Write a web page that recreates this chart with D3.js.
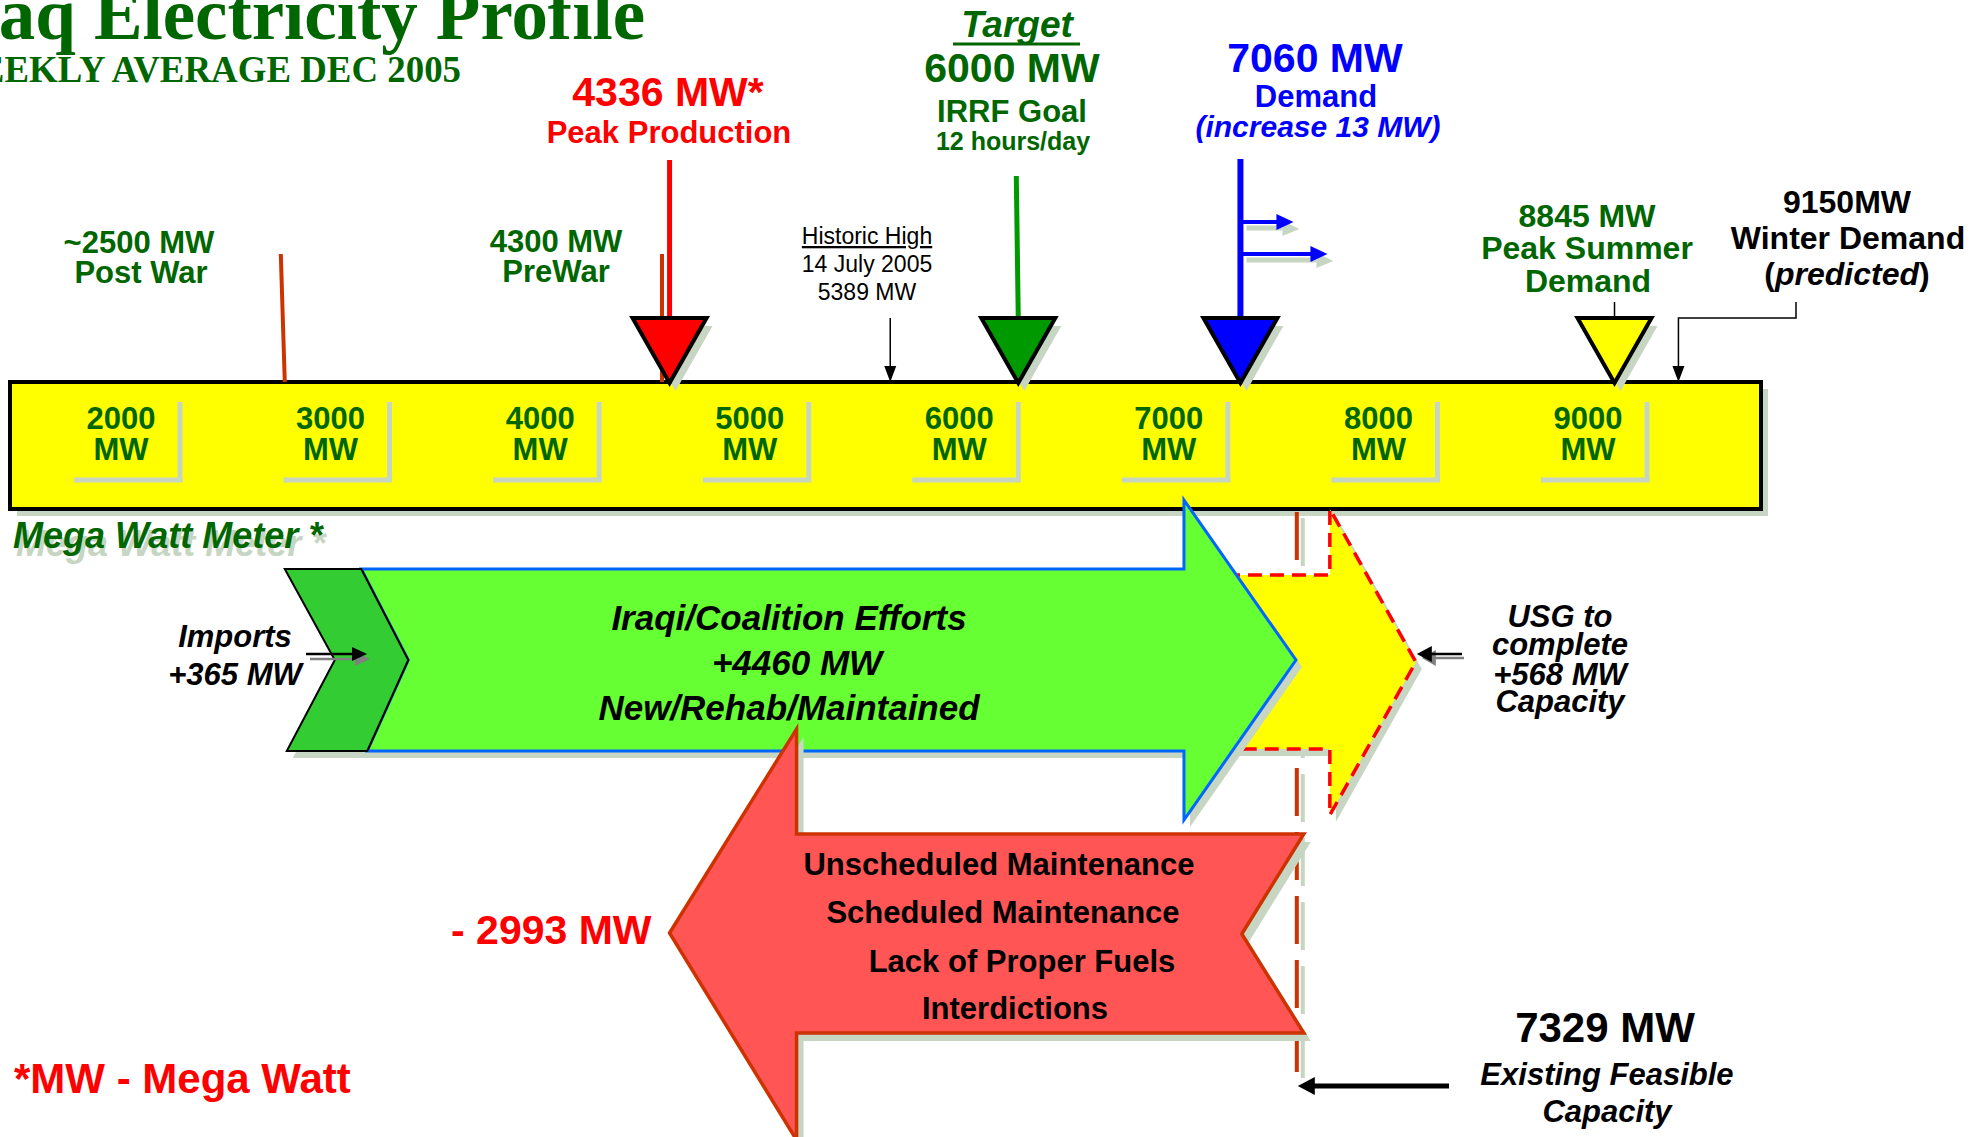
<!DOCTYPE html>
<html><head><meta charset="utf-8">
<script src="https://cdn.jsdelivr.net/npm/d3@7"></script>
<style>html,body{margin:0;padding:0;background:#fff;overflow:hidden}</style>
</head><body>
<svg id="c" width="1971" height="1137"></svg>
<script>
// ---------------- data ----------------
const titleText = "Iraq Electricity Profile";
const subtitleText = "WEEKLY AVERAGE DEC 2005";
const tickValues = [2000, 3000, 4000, 5000, 6000, 7000, 8000, 9000];
const tickUnit = "MW";
const markerKeys   = ["postWar", "preWar", "peak", "historic", "target", "demand", "summer", "winter"];
const markerValues = [2500, 4300, 4336, 5389, 6000, 7060, 8845, 9150];
const flowKeys   = ["imports", "efforts", "usg", "losses"];
const flowValues = [365, 4460, 568, -2993];
const existingCapacity = 7329;

const mv = k => markerValues[markerKeys.indexOf(k)];
const fv = k => flowValues[flowKeys.indexOf(k)];

// ---------------- setup ----------------
const svg = d3.select("#c");
const SH = "#c6d6c2", GREEN = "#006600", SANS = "'Liberation Sans', Arial, sans-serif";
const x = d3.scaleLinear().domain([2000, 9000]).range([180, 1647]);
const line = d3.line();

function text(str, cx, y, size, fill, o = {}) {
  return svg.append("text").attr("x", cx).attr("y", y)
    .attr("text-anchor", o.anchor || "middle")
    .attr("font-family", o.family || SANS)
    .attr("font-weight", o.weight || "bold")
    .attr("font-style", o.italic ? "italic" : "normal")
    .attr("font-size", size).attr("fill", fill).text(str);
}
function poly(pts, fill, stroke, sw, extra = {}) {
  const p = svg.append("path").attr("d", line(pts) + "Z").attr("fill", fill)
    .attr("stroke", stroke || "none").attr("stroke-width", sw || 0).attr("stroke-linejoin", "miter");
  Object.entries(extra).forEach(([k, v]) => p.attr(k, v));
  return p;
}
function seg(x1, y1, x2, y2, stroke, sw, extra = {}) {
  const l = svg.append("line").attr("x1", x1).attr("y1", y1).attr("x2", x2).attr("y2", y2)
    .attr("stroke", stroke).attr("stroke-width", sw);
  Object.entries(extra).forEach(([k, v]) => l.attr(k, v));
  return l;
}
const shift = (pts, dx, dy) => pts.map(p => [p[0] + dx, p[1] + dy]);

// ---------------- title ----------------
svg.append("text").attr("x", -62).attr("y", 39)
  .attr("font-family", "'Liberation Serif', 'Times New Roman', serif").attr("font-weight", "bold")
  .attr("font-size", 74).attr("fill", GREEN)
  .attr("textLength", 707).attr("lengthAdjust", "spacingAndGlyphs").text(titleText);
svg.append("text").attr("x", -57).attr("y", 82)
  .attr("font-family", "'Liberation Serif', 'Times New Roman', serif").attr("font-weight", "bold")
  .attr("font-size", 37).attr("fill", GREEN)
  .attr("textLength", 518).attr("lengthAdjust", "spacingAndGlyphs").text(subtitleText);

// ---------------- meter bar ----------------
svg.append("rect").attr("x", 17).attr("y", 389).attr("width", 1751).attr("height", 127).attr("fill", SH);
svg.append("rect").attr("x", 10).attr("y", 382).attr("width", 1751).attr("height", 127)
  .attr("fill", "#ffff00").attr("stroke", "#000").attr("stroke-width", 4);

tickValues.forEach(v => {
  const tx = x(v);
  seg(tx, 402, tx, 482, SH, 5);
  seg(tx - 106, 480, tx + 2.5, 480, SH, 5);
  text(String(v), tx - 59, 429, 31, GREEN);
  text(tickUnit, tx - 59, 460, 31, GREEN);
});

// "Mega Watt Meter *"
text("Mega Watt Meter *", 16, 556, 36, SH, { anchor: "start", italic: true });
text("Mega Watt Meter *", 13, 548, 36, GREEN, { anchor: "start", italic: true });

// ---------------- markers ----------------
seg(x(mv("postWar")) - 4, 254, x(mv("postWar")), 382, "#cc3300", 4);
seg(x(mv("preWar")), 254, x(mv("preWar")), 382, "#cc3300", 4);
seg(x(mv("peak")), 160, x(mv("peak")), 320, "#ff0000", 5);
seg(x(mv("target")) - 2, 176, x(mv("target")), 320, "#009900", 5);
const bx = x(mv("demand"));
[[222, 37], [254, 71]].forEach(([yy, len]) => {
  seg(bx + 6, yy + 6, bx + len + 5, yy + 6, SH, 5);
  poly([[bx + len + 5, yy - 1], [bx + len + 22, yy + 7], [bx + len + 5, yy + 14]], SH);
  seg(bx, yy, bx + len, yy, "#0000ff", 4);
  poly([[bx + len - 1, yy - 8], [bx + len + 16, yy], [bx + len - 1, yy + 8]], "#0000ff");
});
seg(bx, 159, bx, 320, "#0000ff", 6);

const hx = x(mv("historic"));
seg(hx, 318, hx, 370, "#000", 1.5);
poly([[hx - 6, 366], [hx + 6, 366], [hx, 382]], "#000");

seg(x(mv("summer")), 302, x(mv("summer")), 318, "#000", 1.5);
const wx = x(mv("winter"));
svg.append("path").attr("d", line([[1796, 302], [1796, 318], [wx, 318], [wx, 370]]))
  .attr("fill", "none").attr("stroke", "#000").attr("stroke-width", 1.5);
poly([[wx - 6, 366], [wx + 6, 366], [wx, 382]], "#000");

[["peak", "#ff0000"], ["target", "#009900"], ["demand", "#0000ff"], ["summer", "#ffff00"]].forEach(([k, col]) => {
  const cx = x(mv(k));
  const pts = [[cx - 37, 318], [cx + 37, 318], [cx, 383]];
  poly(shift(pts, 6, 8), SH);
  poly(pts, col, "#000", 4);
});

// ---------------- marker labels ----------------
text("~2500 MW", 139, 253, 31, GREEN);
text("Post War", 141, 283, 31, GREEN);
text("4300 MW", 556, 252, 31, GREEN);
text("PreWar", 556, 282, 31, GREEN);

text("Historic High", 867, 244, 23, "#000", { weight: "normal" }).attr("text-decoration", "underline");
text("14 July 2005", 867, 272, 23, "#000", { weight: "normal" });
text("5389 MW", 867, 300, 23, "#000", { weight: "normal" });

text("4336 MW*", 668, 106, 41, "#ff0000");
text("Peak Production", 669, 143, 31, "#ff0000");

text("Target", 1017, 37, 37, GREEN, { italic: true });
seg(953, 44, 1080, 44, GREEN, 3);
text("6000 MW", 1012, 82, 41, GREEN);
text("IRRF Goal", 1012, 122, 31, GREEN);
text("12 hours/day", 1013, 150, 25, GREEN);

text("7060 MW", 1315, 72, 41, "#0000ff");
text("Demand", 1316, 107, 31, "#0000ff");
text("(increase 13 MW)", 1318, 137, 30, "#0000ff", { italic: true });

text("8845 MW", 1587, 227, 32, GREEN);
text("Peak Summer", 1587, 259, 32, GREEN);
text("Demand", 1588, 292, 32, GREEN);

text("9150MW", 1847, 213, 32, "#000");
text("Winter Demand", 1848, 249, 32, "#000");
const pt = text("", 1847, 285, 32, "#000");
pt.append("tspan").text("(");
pt.append("tspan").attr("font-style", "italic").text("predicted");
pt.append("tspan").text(")");

// ---------------- flows ----------------
const ex = x(existingCapacity);
seg(ex + 6, 518, ex + 6, 1085, SH, 4, { "stroke-dasharray": "48,16" });
seg(ex, 512, ex, 1085, "#cc3300", 4, { "stroke-dasharray": "48,16" });

const base = mv("postWar");
const c0 = x(base), c1 = x(base + fv("imports")), gTip = x(base + fv("imports") + fv("efforts"));
const gHead = gTip - 112;
const yTip = x(existingCapacity + fv("usg")), yBase = yTip - 86;
const yPts = [[gHead + 20, 575], [yBase, 575], [yBase, 509], [yTip, 662], [yBase, 815], [yBase, 749], [gHead + 20, 749]];
poly(shift(yPts, 6, 7), SH);
poly(yPts, "#ffff00", "#ff0000", 3.5, { "stroke-dasharray": "14,8" });

const gBody = [[c1, 569], [gHead, 569], [gHead, 500], [gTip, 660], [gHead, 820], [gHead, 751], [c1 + 6, 751], [c1 + 47, 660]];
const chev = [[c0, 569], [c1, 569], [c1 + 47, 660], [c1 + 6, 751], [c0 + 2, 751], [c0 + 50, 660]];
const gOutline = [[c0, 569], ...gBody.slice(1, 6), [c0 + 2, 751], [c0 + 50, 660]];
poly(shift(gOutline, 6, 7), SH);
poly(gBody, "#66ff33", "#0066ff", 3);
poly(chev, "#33cc33", "#000", 2);

seg(310, 659, 358, 659, "#808080", 2.5);
poly([[355, 652], [370, 659], [355, 666]], "#808080");
seg(306, 654, 354, 654, "#000", 2.5);
poly([[352, 647], [367, 654], [352, 661]], "#000");

const rTip = x(existingCapacity + fv("losses")), rBase = rTip + 127, rRight = ex + 7, rNotch = rRight - 62;
const rPts = [[rTip, 933], [rBase, 729], [rBase, 834], [rRight, 834], [rNotch, 934], [rRight, 1033], [rBase, 1033], [rBase, 1140]];
poly(shift(rPts, 7, 8), SH);
poly(rPts, "#ff5555", "#cc3300", 3.5);

seg(yTip + 16, 658, 1464, 658, "#808080", 2.5);
poly([[yTip + 20, 650], [yTip + 6, 658], [yTip + 20, 666]], "#808080");
seg(yTip + 12, 654, 1462, 654, "#000", 2.5);
poly([[yTip + 16, 646], [yTip + 1, 654], [yTip + 16, 662]], "#000");

seg(ex + 14, 1086, 1449, 1086, "#000", 5);
poly([[ex + 18, 1077], [ex + 1, 1086], [ex + 18, 1095]], "#000");

// ---------------- flow labels ----------------
text("Imports", 235, 647, 31, "#000", { italic: true });
text("+365 MW", 235, 685, 31, "#000", { italic: true });

text("Iraqi/Coalition Efforts", 789, 630, 35, "#000", { italic: true });
text("+4460 MW", 797, 675, 35, "#000", { italic: true });
text("New/Rehab/Maintained", 789, 720, 35, "#000", { italic: true });

text("USG to", 1560, 627, 31, "#000", { italic: true });
text("complete", 1560, 655, 31, "#000", { italic: true });
text("+568 MW", 1560, 685, 31, "#000", { italic: true });
text("Capacity", 1560, 712, 31, "#000", { italic: true });

text("- 2993 MW", rTip - 18, 944, 41, "#ff0000", { anchor: "end" });
text("Unscheduled Maintenance", 999, 875, 31, "#000");
text("Scheduled Maintenance", 1003, 923, 31, "#000");
text("Lack of Proper Fuels", 1022, 972, 31, "#000");
text("Interdictions", 1015, 1019, 31, "#000");

text("*MW - Mega Watt", 14, 1093, 42, "#ff0000", { anchor: "start" });

text("7329 MW", 1605, 1042, 42, "#000");
text("Existing Feasible", 1607, 1085, 31, "#000", { italic: true });
text("Capacity", 1607, 1122, 31, "#000", { italic: true });
</script></body></html>
